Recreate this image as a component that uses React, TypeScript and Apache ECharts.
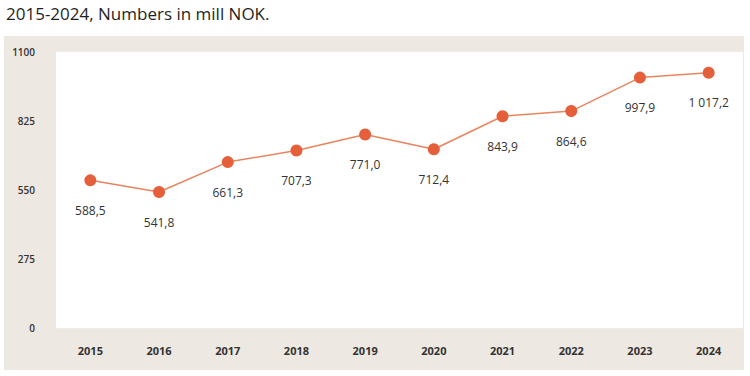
import React, { useEffect, useRef } from "react";
import * as echarts from "echarts";

const years = ["2015", "2016", "2017", "2018", "2019", "2020", "2021", "2022", "2023", "2024"];
const values = [588.5, 541.8, 661.3, 707.3, 771.0, 712.4, 843.9, 864.6, 997.9, 1017.2];
const titleText = "2015-2024, Numbers in mill NOK.";

const fmt = (v: number) => {
  const [i, d] = v.toFixed(1).split(".");
  const ip = i.replace(/\B(?=(\d{3})+(?!\d))/g, " ");
  return ip + "," + d;
};

export default function App() {
  const ref = useRef<HTMLDivElement>(null);
  useEffect(() => {
    document.body.style.margin = "0";
    const chart = echarts.init(ref.current!, undefined, { renderer: "svg" });
    chart.setOption({
      animation: false,
      title: {
        text: titleText,
        left: 1,
        top: 0,
        textStyle: { fontFamily: "Open Sans", fontSize: 17, fontWeight: 500, color: "#1f1f1f" },
      },
      graphic: [
        {
          type: "rect",
          z: -10,
          silent: true,
          shape: { x: 4, y: 36, width: 740, height: 334 },
          style: { fill: "#eee8e2" },
        },
      ],
      grid: {
        left: 56,
        right: 7,
        top: 52,
        bottom: 48,
        show: true,
        backgroundColor: "#ffffff",
        borderWidth: 0,
        z: 1,
      },
      xAxis: {
        type: "category",
        data: years,
        boundaryGap: true,
        axisLine: { show: false },
        axisTick: { show: false },
        axisLabel: {
          margin: 17,
          fontFamily: "Open Sans",
          fontWeight: "bold",
          fontSize: 11,
          color: "#333",
        },
      },
      yAxis: {
        type: "value",
        min: 0,
        max: 1100,
        interval: 275,
        axisLine: { show: false },
        axisTick: { show: false },
        splitLine: { lineStyle: { color: "#f1ede8", width: 1.5 } },
        axisLabel: {
          margin: 21,
          formatter: (v: number) => String(v),
          fontFamily: "Open Sans",
          fontWeight: 600,
          fontSize: 10,
          color: "#333",
        },
      },
      series: [
        {
          type: "line",
          data: values,
          symbol: "circle",
          symbolSize: 12,
          lineStyle: { color: "#e9845f", width: 1.5 },
          itemStyle: { color: "#e5603a" },
          label: {
            show: true,
            position: "bottom",
            distance: 18,
            formatter: (p: any) => fmt(p.value),
            fontFamily: "Open Sans",
            fontSize: 12,
            color: "#333",
          },
        },
      ],
    });
    return () => chart.dispose();
  }, []);
  return <div ref={ref} style={{ width: 750, height: 376 }} />;
}
